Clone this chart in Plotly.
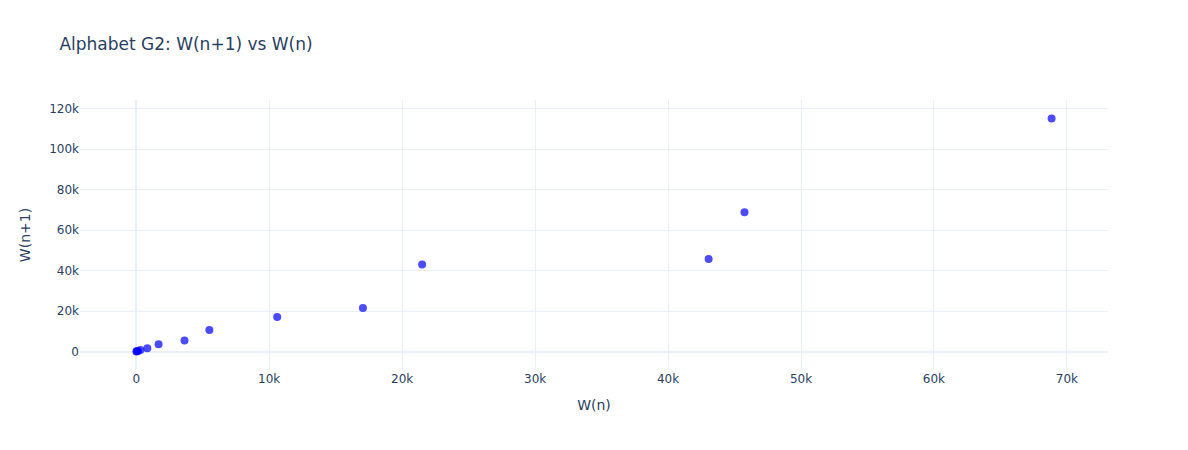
import plotly.graph_objects as go

# consecutive terms W(n), W(n+1)
w_n = [10, 40, 130, 310, 830, 1680, 3630, 5500, 10600, 17050, 21500, 43050, 45750, 68850]
w_next = [40, 130, 310, 830, 1680, 3630, 5500, 10600, 17050, 21500, 43050, 45750, 68850, 115100]

fig = go.Figure()
fig.add_trace(
    go.Scatter(
        x=w_n,
        y=w_next,
        mode="markers",
        marker=dict(color="blue", size=8, opacity=0.7),
    )
)
fig.update_layout(
    template="plotly_white",
    font=dict(family="DejaVu Sans"),
    title="Alphabet G2: W(n+1) vs W(n)",
    xaxis_title="W(n)",
    yaxis_title="W(n+1)",
    width=1188,
    height=450,
)
fig.write_html(
    "out.html",
    config={"displayModeBar": False},
    post_script="document.body.style.margin='0';",
)
